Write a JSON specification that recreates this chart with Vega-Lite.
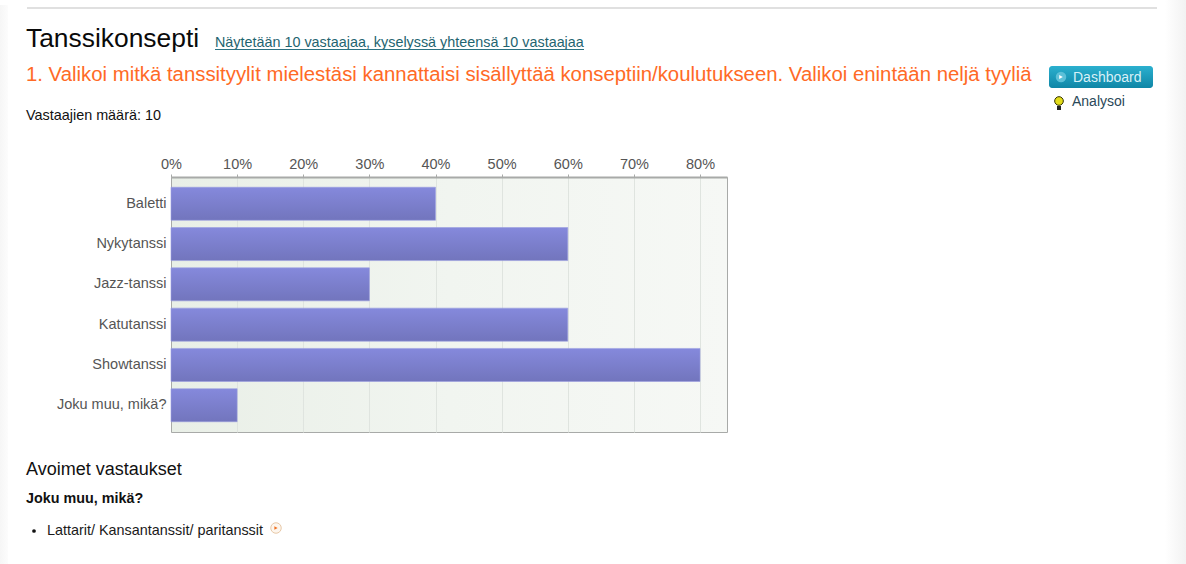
{
"$schema":"https://vega.github.io/schema/vega-lite/v6.json",
"width":556,"height":255,
"autosize":{"type":"none"},
"padding":{"left":171,"top":177,"right":459,"bottom":132},
"background":"white",
"view":{"stroke":"#a8aaa8","strokeWidth":1,"fill":{"gradient":"linear","x1":0,"y1":0,"x2":1,"y2":0,"stops":[{"offset":0,"color":"#e9efe7"},{"offset":0.5,"color":"#f1f5f0"},{"offset":1,"color":"#f6f8f5"}]}},
"config":{"font":"Liberation Sans"},
"datasets":{"vastaukset":[
{"tyyli":"Baletti","osuus":0.4},
{"tyyli":"Nykytanssi","osuus":0.6},
{"tyyli":"Jazz-tanssi","osuus":0.3},
{"tyyli":"Katutanssi","osuus":0.6},
{"tyyli":"Showtanssi","osuus":0.8},
{"tyyli":"Joku muu, mikä?","osuus":0.1}
]},
"resolve":{"scale":{"x":"independent","y":"independent"},"axis":{"x":"independent","y":"independent"}},
"layer":[
{"data":{"name":"vastaukset"},
 "mark":{"type":"bar","stroke":"#9a9de0","strokeWidth":0.6,"fill":{"gradient":"linear","x1":0,"y1":0,"x2":0,"y2":1,"stops":[{"offset":0,"color":"#8589dc"},{"offset":1,"color":"#7275bd"}]}},
 "encoding":{
  "x":{"field":"osuus","type":"quantitative","scale":{"domain":[0,0.8408],"nice":false},
   "axis":{"orient":"top","title":null,"values":[0,0.1,0.2,0.3,0.4,0.5,0.6,0.7,0.8],"format":".0%","labelColor":"#555555","labelFontSize":14.5,"labelPadding":3,"labelFlush":false,"tickColor":"#a8aaa8","tickSize":3,"domainColor":"#a8aaa8","domainWidth":2,"grid":true,"gridColor":"#dfe4df","gridWidth":1}},
  "y":{"field":"tyyli","type":"nominal","sort":null,"scale":{"paddingInner":0.18,"paddingOuter":0.254},
   "axis":{"title":null,"ticks":false,"domainColor":"#a8aaa8","labelColor":"#555555","labelFontSize":14.5,"labelPadding":5,"labelLimit":200,"grid":false}}
 }},
{"data":{"values":[{"osa":"sivu"}]},
 "layer":[
 {"mark":{"type":"rect","fill":{"gradient":"linear","x1":0,"y1":0,"x2":1,"y2":0,"stops":[{"offset":0,"color":"#f6f6f6"},{"offset":1,"color":"#fcfcfc"}]}},
  "encoding":{"x":{"datum":0,"scale":{"domain":[171,727],"nice":false,"zero":false},"axis":null},"x2":{"datum":8},"y":{"datum":5,"scale":{"domain":[177,432],"nice":false,"zero":false,"reverse":false,"range":[0,255]},"axis":null},"y2":{"datum":564}}},
 {"mark":{"type":"rect","fill":{"gradient":"linear","x1":0,"y1":0,"x2":1,"y2":0,"stops":[{"offset":0,"color":"#ffffff"},{"offset":1,"color":"#f2f2f2"}]}},
  "encoding":{"x":{"datum":1165,"axis":null},"x2":{"datum":1186},"y":{"datum":0,"axis":null},"y2":{"datum":564}}},
 {"mark":{"type":"rule","color":"#e0e0e0","strokeWidth":2},
  "encoding":{"x":{"datum":27,"axis":null},"x2":{"datum":1157},"y":{"datum":8,"axis":null}}},
 {"data":{"values":[{"teksti":"Tanssikonsepti"}]},"mark":{"type":"text","align":"left","baseline":"alphabetic","fontSize":26.4,"color":"#0a0a0a"},
  "encoding":{"text":{"field":"teksti"},"x":{"datum":26,"axis":null},"y":{"datum":47,"axis":null}}},
 {"data":{"values":[{"teksti":"Näytetään 10 vastaajaa, kyselyssä yhteensä 10 vastaajaa"}]},"mark":{"type":"text","align":"left","baseline":"alphabetic","fontSize":14.36,"color":"#1f6470"},
  "encoding":{"text":{"field":"teksti"},"x":{"datum":215,"axis":null},"y":{"datum":47,"axis":null}}},
 {"mark":{"type":"rule","color":"#2c7282","strokeWidth":1},
  "encoding":{"x":{"datum":215,"axis":null},"x2":{"datum":584},"y":{"datum":49.5,"axis":null}}},
 {"data":{"values":[{"teksti":"1. Valikoi mitkä tanssityylit mielestäsi kannattaisi sisällyttää konseptiin/koulutukseen. Valikoi enintään neljä tyyliä"}]},"mark":{"type":"text","align":"left","baseline":"alphabetic","fontSize":20.35,"color":"#ff6a26"},
  "encoding":{"text":{"field":"teksti"},"x":{"datum":26,"axis":null},"y":{"datum":81,"axis":null}}},
 {"data":{"values":[{"teksti":"Vastaajien määrä: 10"}]},"mark":{"type":"text","align":"left","baseline":"alphabetic","fontSize":14.4,"color":"#111111"},
  "encoding":{"text":{"field":"teksti"},"x":{"datum":26,"axis":null},"y":{"datum":120,"axis":null}}},
 {"mark":{"type":"rect","cornerRadius":3,"fill":{"gradient":"linear","x1":0,"y1":0,"x2":0,"y2":1,"stops":[{"offset":0,"color":"#2bb0cf"},{"offset":1,"color":"#0f86a6"}]}},
  "encoding":{"x":{"datum":1049,"axis":null},"x2":{"datum":1153},"y":{"datum":66,"axis":null},"y2":{"datum":88,"axis":null}}},
 {"mark":{"type":"point","shape":"circle","filled":true,"color":"#5cc0d8","size":110,"opacity":1},
  "encoding":{"x":{"datum":1061,"axis":null},"y":{"datum":77,"axis":null}}},
 {"mark":{"type":"point","shape":"triangle-right","filled":true,"color":"#ffffff","size":18,"opacity":1},
  "encoding":{"x":{"datum":1061,"axis":null},"y":{"datum":77,"axis":null}}},
 {"data":{"values":[{"teksti":"Dashboard"}]},"mark":{"type":"text","align":"left","baseline":"alphabetic","fontSize":14,"color":"#d8f1f8"},
  "encoding":{"text":{"field":"teksti"},"x":{"datum":1073,"axis":null},"y":{"datum":82,"axis":null}}},
 {"mark":{"type":"point","shape":"circle","filled":true,"color":"#e3dc1a","stroke":"#333300","strokeWidth":1,"size":75,"opacity":1},
  "encoding":{"x":{"datum":1059,"axis":null},"y":{"datum":101,"axis":null}}},
 {"mark":{"type":"rule","color":"#222222","strokeWidth":4},
  "encoding":{"x":{"datum":1059,"axis":null},"y":{"datum":106,"axis":null},"y2":{"datum":110,"axis":null}}},
 {"data":{"values":[{"teksti":"Analysoi"}]},"mark":{"type":"text","align":"left","baseline":"alphabetic","fontSize":14,"color":"#2a4858"},
  "encoding":{"text":{"field":"teksti"},"x":{"datum":1072,"axis":null},"y":{"datum":106,"axis":null}}},
 {"data":{"values":[{"teksti":"Avoimet vastaukset"}]},"mark":{"type":"text","align":"left","baseline":"alphabetic","fontSize":18,"color":"#111111"},
  "encoding":{"text":{"field":"teksti"},"x":{"datum":26,"axis":null},"y":{"datum":475,"axis":null}}},
 {"data":{"values":[{"teksti":"Joku muu, mikä?"}]},"mark":{"type":"text","align":"left","baseline":"alphabetic","fontSize":14.35,"fontWeight":"bold","color":"#111111"},
  "encoding":{"text":{"field":"teksti"},"x":{"datum":26,"axis":null},"y":{"datum":503,"axis":null}}},
 {"mark":{"type":"point","shape":"circle","filled":true,"color":"#111111","size":14,"opacity":1},
  "encoding":{"x":{"datum":34,"axis":null},"y":{"datum":531,"axis":null}}},
 {"data":{"values":[{"teksti":"Lattarit/ Kansantanssit/ paritanssit"}]},"mark":{"type":"text","align":"left","baseline":"alphabetic","fontSize":14.4,"color":"#1a1a1a"},
  "encoding":{"text":{"field":"teksti"},"x":{"datum":47,"axis":null},"y":{"datum":535,"axis":null}}},
 {"mark":{"type":"point","shape":"circle","filled":true,"fill":"#fdf6ee","stroke":"#e8c9a8","strokeWidth":1,"size":110,"opacity":1},
  "encoding":{"x":{"datum":276,"axis":null},"y":{"datum":528,"axis":null}}},
 {"mark":{"type":"point","shape":"triangle-right","filled":true,"color":"#f07020","size":14,"opacity":1},
  "encoding":{"x":{"datum":276,"axis":null},"y":{"datum":528,"axis":null}}}
]}
]}
